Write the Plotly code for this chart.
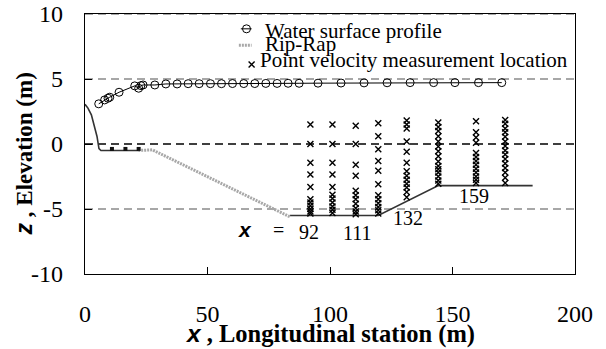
import plotly.graph_objects as go

# --- water surface profile (station m, elevation m) ---
ws_x = [5.6, 8.0, 9.4, 10.1, 13.9, 20.3, 21.9, 22.8, 23.7, 28.5, 33.0, 37.6, 42.1, 46.6,
        51.2, 55.7, 60.2, 64.8, 69.3, 73.8, 78.4, 82.9, 87.4, 95.1, 104.5, 113.9, 123.3,
        132.7, 142.3, 151.0, 160.6, 170.1]
ws_z = [3.09, 3.39, 3.52, 3.60, 3.98, 4.47, 4.29, 4.49, 4.54, 4.54, 4.62, 4.62, 4.64, 4.64,
        4.64, 4.64, 4.65, 4.65, 4.65, 4.66, 4.66, 4.67, 4.67, 4.68, 4.69, 4.70, 4.71,
        4.72, 4.72, 4.72, 4.72, 4.72]

# --- channel bed, upstream approach and downstream reach ---
bed_up_x = [0, 1.2, 2.6, 4.0, 4.9, 5.7, 6.5, 21.7]
bed_up_z = [3.05, 2.76, 2.24, 1.35, 0.58, -0.35, -0.5, -0.5]
bed_dn_x = [83.6, 119.7, 144.2, 182.7]
bed_dn_z = [-5.5, -5.5, -3.2, -3.2]

# --- rip-rap apron ---
rip_x = [21.7, 27.5, 83.6]
rip_z = [-0.5, -0.45, -5.6]

# --- small markers on the upstream sill ---
sill_x = [11.0, 16.5, 21.9]
sill_z = [-0.38, -0.38, -0.38]

# --- point velocity measurement locations, by station ---
stations = [92, 101, 110.5, 119.7, 131.3, 144.2, 159.6, 171.5]
depths = [
    [1.5, 0.0, -1.45, -2.35, -3.3, -4.25, -4.5, -4.75, -5.0, -5.2, -5.35],
    [1.5, 0.0, -1.45, -2.35, -3.3, -3.9, -4.2, -4.5, -4.8, -5.05, -5.3],
    [1.4, 0.0, -1.6, -2.45, -3.6, -3.95, -4.25, -4.6, -4.95, -5.2, -5.4],
    [1.6, 0.6, -0.4, -1.3, -2.05, -3.1, -3.95, -4.25, -4.55, -4.85, -5.1, -5.35],
    [1.8, 1.5, 1.2, 0.2, -0.6, -1.45, -2.1, -2.45, -2.75, -3.05, -3.35, -3.7, -4.1],
    [1.65, 1.3, 1.0, 0.6, 0.2, -0.2, -0.55, -0.95, -1.35, -1.7, -1.95, -2.2, -2.5, -2.8, -3.05],
    [1.75, 0.9, 0.5, 0.1, -0.7, -1.0, -1.3, -1.6, -1.9, -2.2, -2.5, -2.75, -3.0],
    [1.85, 1.55, 1.2, 0.9, 0.55, 0.2, -0.15, -0.5, -0.8, -1.15, -1.5, -1.85, -2.2, -2.6, -3.0],
]

# station labels along the bed
label_text = ["92", "111", "132", "159"]
label_x = [91.5, 111.1, 132.0, 158.8]
label_z = [-6.77, -6.82, -5.67, -4.0]

# reference elevations
ref_levels = [10, 5, 0, -5]
ref_colors = ["#8a8a8a", "#8a8a8a", "#000000", "#8a8a8a"]

x_ticks = [0, 50, 100, 150, 200]
x_tick_text = ["0", "50", "100", "150", "200"]
y_ticks = [-10, -5, 0, 5, 10]
y_tick_text = ["-10", "-5", "0", "5", "10"]

legend_names = ["Water surface profile", "Rip-Rap", "Point velocity measurement location"]

SERIF = "Liberation Serif"
SANS = "Liberation Sans"

pts_x, pts_z = [], []
for s, col in zip(stations, depths):
    pts_x += [s] * len(col)
    pts_z += col

fig = go.Figure()

fig.add_trace(go.Scatter(x=bed_up_x, y=bed_up_z, mode="lines",
                         line=dict(color="#333333", width=1.6), showlegend=False))
fig.add_trace(go.Scatter(x=bed_dn_x, y=bed_dn_z, mode="lines",
                         line=dict(color="#333333", width=1.6), showlegend=False))
fig.add_trace(go.Scatter(x=rip_x, y=rip_z, mode="lines",
                         line=dict(color="#a8a8a8", width=3, dash="2px,1px"), showlegend=False))
fig.add_trace(go.Scatter(x=sill_x, y=sill_z, mode="markers",
                         marker=dict(symbol="square", size=4, color="#111111"), showlegend=False))
fig.add_trace(go.Scatter(x=ws_x, y=ws_z, mode="lines+markers",
                         line=dict(color="#000000", width=1),
                         marker=dict(symbol="circle-open", size=8, color="#000000",
                                     line=dict(color="#000000", width=1)),
                         showlegend=False))
fig.add_trace(go.Scatter(x=pts_x, y=pts_z, mode="markers",
                         marker=dict(symbol="x-thin-open", size=6, color="#000000",
                                     line=dict(color="#000000", width=1.4)),
                         showlegend=False))

# legend keys drawn on an overlay axis spanning the plot area (0..1)
leg_rows = [0.943, 0.880, 0.806]
fig.add_trace(go.Scatter(x=[0.318, 0.340], y=[leg_rows[0]] * 2, mode="lines",
                         line=dict(color="#000000", width=1), xaxis="x2", yaxis="y2",
                         showlegend=False, hoverinfo="skip"))
fig.add_trace(go.Scatter(x=[0.3296], y=[leg_rows[0]], mode="markers",
                         marker=dict(symbol="circle-open", size=8, color="#000000",
                                     line=dict(color="#000000", width=1)),
                         xaxis="x2", yaxis="y2", showlegend=False, hoverinfo="skip"))
fig.add_trace(go.Scatter(x=[0.314, 0.340], y=[leg_rows[1]] * 2, mode="lines",
                         line=dict(color="#a8a8a8", width=3, dash="2px,1px"),
                         xaxis="x2", yaxis="y2", showlegend=False, hoverinfo="skip"))
fig.add_trace(go.Scatter(x=[0.340], y=[leg_rows[2]], mode="markers",
                         marker=dict(symbol="x-thin-open", size=6, color="#000000",
                                     line=dict(color="#000000", width=1.4)),
                         xaxis="x2", yaxis="y2", showlegend=False, hoverinfo="skip"))

annotations = []
leg_text_x = [0.363, 0.363, 0.353]
leg_text_y = [0.936, 0.885, 0.822]
for name, lx, ly in zip(legend_names, leg_text_x, leg_text_y):
    annotations.append(dict(text=name, x=lx, y=ly, xref="paper", yref="paper",
                            xanchor="left", yanchor="middle", showarrow=False,
                            font=dict(family=SERIF, size=21, color="#000000")))

for t, lx, lz in zip(label_text, label_x, label_z):
    annotations.append(dict(text=t, x=lx, y=lz, xref="x", yref="y", showarrow=False,
                            xanchor="center", yanchor="middle",
                            font=dict(family=SERIF, size=20, color="#000000")))
annotations.append(dict(text="<b><i>x</i></b>", x=65.2, y=-6.6, xref="x", yref="y",
                        showarrow=False, font=dict(family=SANS, size=21, color="#000000")))
annotations.append(dict(text="=", x=78.8, y=-6.6, xref="x", yref="y",
                        showarrow=False, font=dict(family=SERIF, size=20, color="#000000")))

# axis titles
annotations.append(dict(
    text='<span style="font-family:Liberation Sans"><b><i>x</i></b></span>'
         '<b> , Longitudinal station (m)</b>',
    x=0.5, y=-0.2325, xref="paper", yref="paper", xanchor="center", yanchor="middle",
    showarrow=False, font=dict(family=SERIF, size=24.5, color="#000000")))
annotations.append(dict(
    text='<span style="font-family:Liberation Sans"><b><i>z</i></b></span>'
         '<b> , Elevation (m)</b>',
    x=-0.1225, y=0.4635, xref="paper", yref="paper", xanchor="center", yanchor="middle",
    textangle=-90, showarrow=False, font=dict(family=SERIF, size=23, color="#000000")))

shapes = []
for lv, c in zip(ref_levels, ref_colors):
    shapes.append(dict(type="line", xref="paper", yref="y", x0=0, x1=1, y0=lv, y1=lv,
                       line=dict(color=c, width=1.4, dash="8px,5px"),
                       layer="above" if lv == 10 else "below"))

fig.update_layout(
    width=606, height=349,
    margin=dict(l=85, r=31, t=14, b=75, autoexpand=False),
    paper_bgcolor="white", plot_bgcolor="white",
    font=dict(family=SERIF, color="#000000"),
    showlegend=False,
    annotations=annotations,
    shapes=shapes,
    xaxis=dict(range=[0, 200], tickmode="array", tickvals=x_ticks, ticktext=x_tick_text,
               ticks="inside", ticklen=7, automargin=False,
               tickcolor="#000000", tickwidth=1.2, showgrid=False, zeroline=False,
               showline=True, linecolor="#000000", linewidth=1.4, mirror=True,
               ticklabelstandoff=18,
               tickfont=dict(family=SERIF, size=24, color="#000000")),
    yaxis=dict(range=[-10, 10], tickmode="array", tickvals=y_ticks, ticktext=y_tick_text,
               ticks="inside", ticklen=7, automargin=False,
               tickcolor="#000000", tickwidth=1.2, showgrid=False, zeroline=False,
               showline=True, linecolor="#000000", linewidth=1.4, mirror=True,
               ticklabelstandoff=16,
               tickfont=dict(family=SERIF, size=24, color="#000000")),
    xaxis2=dict(range=[0, 1], overlaying="x", visible=False, fixedrange=True),
    yaxis2=dict(range=[0, 1], overlaying="y", visible=False, fixedrange=True),
)

fig.write_html("out.html")
